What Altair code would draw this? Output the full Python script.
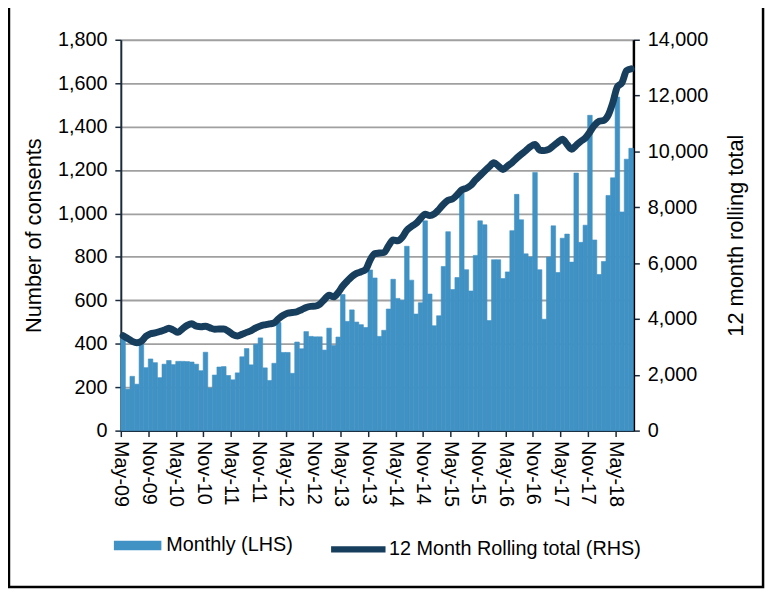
import altair as alt
import pandas as pd

# Monthly consents (LHS), May-09 .. Aug-18
monthly = [430, 191, 250, 214, 398, 290, 330, 313, 244, 306, 323, 304,
           319, 319, 318, 316, 306, 276, 361, 196, 256, 293, 295, 254,
           234, 266, 340, 378, 303, 398, 427, 289, 231, 310, 498, 360,
           360, 264, 408, 377, 456, 434, 432, 432, 371, 472, 392, 431,
           627, 503, 556, 500, 488, 475, 740, 703, 434, 462, 560, 697,
           609, 600, 849, 693, 537, 589, 966, 629, 483, 529, 756, 916,
           650, 705, 1106, 741, 643, 807, 966, 948, 507, 787, 787, 700,
           731, 921, 1088, 971, 814, 799, 1189, 741, 513, 799, 943, 728,
           886, 905, 776, 1186, 867, 946, 1452, 878, 719, 779, 1083, 1164,
           1536, 1007, 1250, 1300]

# 12 month rolling total (RHS)
rolling = [3400, 3300, 3200, 3150, 3200, 3380, 3470, 3500, 3550, 3600, 3670, 3600,
           3520, 3650, 3770, 3830, 3740, 3720, 3740, 3680, 3630, 3640, 3640, 3560,
           3440, 3390, 3450, 3520, 3580, 3680, 3750, 3790, 3820, 3860, 4010, 4130,
           4210, 4230, 4260, 4330, 4410, 4450, 4460, 4530, 4700, 4850, 4790, 4950,
           5180, 5360, 5520, 5630, 5690, 5770, 6120, 6340, 6360, 6380, 6620, 6830,
           6800, 6930, 7180, 7310, 7420, 7600, 7750, 7700, 7760, 7920, 8110, 8250,
           8300, 8450, 8620, 8680, 8790, 8980, 9140, 9300, 9450, 9600, 9480, 9350,
           9480, 9600, 9760, 9900, 10030, 10170, 10250, 10050, 10030, 10070, 10200, 10330,
           10440, 10250, 10080, 10220, 10360, 10480, 10700, 10940, 11080, 11110, 11300, 11750,
           12320, 12460, 12890, 12960]

tick_labels = ["May-09", "Nov-09", "May-10", "Nov-10", "May-11", "Nov-11", "May-12",
               "Nov-12", "May-13", "Nov-13", "May-14", "Nov-14", "May-15", "Nov-15",
               "May-16", "Nov-16", "May-17", "Nov-17", "May-18"]

n = len(monthly)
months = pd.date_range("2009-05-01", periods=n, freq="MS").strftime("%b-%y")
df = pd.DataFrame({
    "month": months,
    "idx": list(range(n)),
    "idx_end": [i + 1 for i in range(n)],
    "mid": [i + 0.5 for i in range(n)],
    "monthly": monthly,
    "rolling": rolling,
    "s1": ["Monthly (LHS)"] * n,
    "s2": ["12 Month Rolling total (RHS)"] * n,
})

FONT = "Liberation Sans"
BAR = "#4192c4"
LINE = "#173e5c"
label_expr = "[" + ",".join("'%s'" % t for t in tick_labels) + "][round(datum.value/6)]"
tick_vals = list(range(0, 6 * len(tick_labels), 6))

xscale = alt.Scale(domain=[0, n], nice=False, zero=False)


def xaxis():
    return alt.Axis(values=tick_vals, labelExpr=label_expr, labelAngle=90,
                    labelOverlap=False, labelSeparation=0, labelBound=False,
                    tickCount=len(tick_vals), title=None, grid=False, labelFont=FONT,
                    labelFontSize=20, labelColor="black", domainColor="#1a2a3a",
                    domainWidth=2, tickColor="#1a2a3a", tickSize=6, tickWidth=1.5,
                    labelPadding=4)


bars = alt.Chart(df).mark_rect(stroke=BAR, strokeWidth=0.6).encode(
    x=alt.X("idx:Q", scale=xscale, axis=xaxis()),
    x2="idx_end:Q",
    y=alt.Y("monthly:Q",
            scale=alt.Scale(domain=[0, 1800], nice=False),
            axis=alt.Axis(orient="left", values=list(range(0, 1801, 200)), format=",d",
                          title="Number of consents", titleFont=FONT, titleFontSize=22,
                          titleFontWeight="normal", titleColor="black", titlePadding=12,
                          labelFont=FONT, labelFontSize=20, labelColor="black",
                          labelPadding=8, grid=True, gridColor="#a0a0a0", gridWidth=1.8,
                          domainColor="#1a2a3a", domainWidth=2, tickColor="#1a2a3a",
                          tickSize=6, tickWidth=1.5)),
    y2=alt.datum(0),
    color=alt.Color("s1:N", scale=alt.Scale(domain=["Monthly (LHS)"], range=[BAR]),
                    legend=alt.Legend(orient="none", legendX=-7, legendY=487, title=None,
                                      symbolType="M-1,-0.2H1V0.2H-1Z", symbolSize=2304,
                                      symbolStrokeWidth=0, labelFont=FONT,
                                      labelFontSize=20, labelColor="black",
                                      labelOffset=5, labelLimit=400, padding=0)),
)

line = alt.Chart(df).mark_line(strokeWidth=7, strokeCap="round", strokeJoin="round",
                               interpolate="monotone").encode(
    x=alt.X("mid:Q", scale=xscale, axis=xaxis()),
    y=alt.Y("rolling:Q",
            scale=alt.Scale(domain=[0, 14000], nice=False),
            axis=alt.Axis(orient="right", values=list(range(0, 14001, 2000)), format=",d",
                          title="12 month rolling total", titleFont=FONT, titleFontSize=22,
                          titleFontWeight="normal", titleColor="black", titleAngle=270,
                          titlePadding=40, labelFont=FONT, labelFontSize=20,
                          labelColor="black", labelPadding=8, grid=False,
                          domainColor="black", domainWidth=2.5, tickColor="#1a2a3a",
                          tickSize=6, tickWidth=1.5)),
    stroke=alt.Stroke("s2:N",
                      scale=alt.Scale(domain=["12 Month Rolling total (RHS)"], range=[LINE]),
                      legend=alt.Legend(orient="none", legendX=209, legendY=484, title=None,
                                        symbolType="stroke", symbolSize=3025,
                                        symbolStrokeWidth=6.5, labelFont=FONT,
                                        labelFontSize=20, labelColor="black",
                                        labelOffset=0, labelLimit=400, padding=0)),
)

frame = alt.Chart(pd.DataFrame({"f": [0]})).mark_rect(
    fillOpacity=0, stroke="black", strokeWidth=2.5
).encode(x=alt.value(-113), x2=alt.value(649), y=alt.value(-60), y2=alt.value(553))

chart = alt.layer(bars, line, frame).resolve_scale(
    y="independent", color="independent", stroke="independent"
).properties(
    width=518, height=395,
    autosize=alt.AutoSizeParams(type="none"),
    padding={"left": 114, "top": 29, "right": 136, "bottom": 161},
).configure_view(stroke=None).configure(background="white")

chart.save("out.html", embed_options={"renderer": "svg", "actions": False})
